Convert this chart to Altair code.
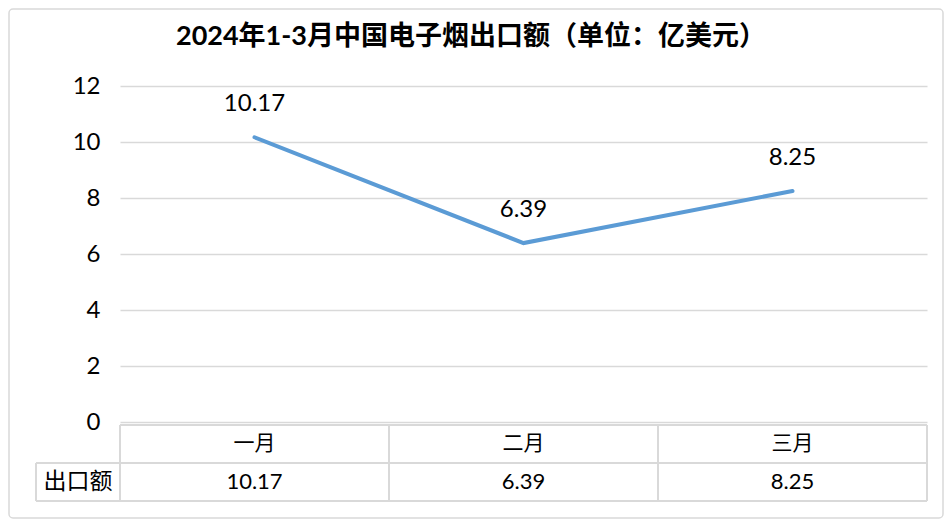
import altair as alt
import pandas as pd

months = ["一月", "二月", "三月"]
values = [10.17, 6.39, 8.25]
y_ticks = [0, 2, 4, 6, 8, 10, 12]
title_text = "2024年1-3月中国电子烟出口额（单位：亿美元）"
row_label = "出口额"

df = pd.DataFrame({"month": months, "value": values})
one = pd.DataFrame({"a": [0]})

W, H = 807, 336
GRID = "#d9d9d9"
FONT = "Lato, Noto Sans CJK SC"

xenc = alt.X("month:N", sort=months,
             scale=alt.Scale(type="band", paddingInner=0, paddingOuter=0),
             axis=None)

base = alt.Chart(df)

line = base.mark_line(color="#5B9BD5", strokeWidth=4, strokeCap="round").encode(
    x=xenc,
    y=alt.Y("value:Q", scale=alt.Scale(domain=[0, 12]),
            axis=alt.Axis(values=y_ticks, title=None, domain=False, ticks=False,
                          labelPadding=20, labelFontSize=24, labelFont=FONT,
                          labelColor="black", gridColor=GRID, gridWidth=1.5)),
)

labels = base.mark_text(dy=-33, fontSize=24, font=FONT, color="black",
                        baseline="middle").encode(
    x=xenc, y="value:Q", text=alt.Text("value:Q", format=".2f"))

hdr = base.mark_text(fontSize=21, font=FONT, color="black", baseline="middle").encode(
    x=xenc, y=alt.value(358), text="month:N")

vals = base.mark_text(fontSize=22, font=FONT, color="black", baseline="middle").encode(
    x=xenc, y=alt.value(396), text=alt.Text("value:Q", format=".2f"))

rowlab = alt.Chart(one).mark_text(fontSize=23, font=FONT, color="black",
                                  baseline="middle").encode(
    x=alt.value(-42), y=alt.value(396), text=alt.value(row_label))

vrules = base.mark_rule(color=GRID, strokeWidth=2).encode(
    x=alt.X("month:N", sort=months,
            scale=alt.Scale(type="band", paddingInner=0, paddingOuter=0),
            axis=None, bandPosition=0),
    y=alt.value(339), y2=alt.value(415))

rules = [
    alt.Chart(one).mark_rule(color=GRID, strokeWidth=2).encode(
        x=alt.value(W), y=alt.value(339), y2=alt.value(415)),
    alt.Chart(one).mark_rule(color=GRID, strokeWidth=2).encode(
        x=alt.value(-84), y=alt.value(377), y2=alt.value(415)),
    alt.Chart(one).mark_rule(color=GRID, strokeWidth=2).encode(
        x=alt.value(0), x2=alt.value(W), y=alt.value(339)),
    alt.Chart(one).mark_rule(color=GRID, strokeWidth=2).encode(
        x=alt.value(-84), x2=alt.value(W), y=alt.value(377)),
    alt.Chart(one).mark_rule(color=GRID, strokeWidth=2).encode(
        x=alt.value(-84), x2=alt.value(W), y=alt.value(415)),
]

border = alt.Chart(one).mark_rect(fillOpacity=0, stroke=GRID, strokeWidth=1.5,
                                  cornerRadius=4).encode(
    x=alt.value(-111), x2=alt.value(W + 16), y=alt.value(-77), y2=alt.value(H + 96))

title = alt.Chart(one).mark_text(fontSize=27, font=FONT, fontWeight="bold",
                                 color="black", baseline="middle").encode(
    x=alt.value(351), y=alt.value(-49), text=alt.value(title_text))

chart = alt.layer(border, line, labels, hdr, vals, rowlab, vrules, *rules, title).properties(
    width=W, height=H,
    background="white",
    autosize=alt.AutoSizeParams(type="none"),
    padding={"left": 112, "top": 78, "right": 17, "bottom": 97},
).configure_view(stroke=None)

chart.save("out.html", embed_options={"renderer": "svg", "actions": False})
